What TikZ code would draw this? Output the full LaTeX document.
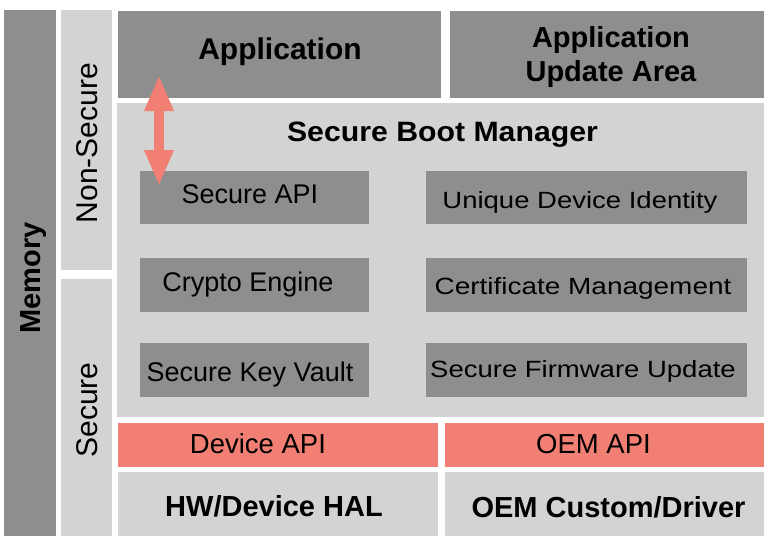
\documentclass[tikz,border=0pt]{standalone}
\usepackage{fontspec}
\setmainfont{Liberation Sans}
\usetikzlibrary{arrows.meta}
\definecolor{dgray}{HTML}{8E8E8E}
\definecolor{lgray}{HTML}{D3D3D3}
\definecolor{salmon}{HTML}{F17F73}
\newcommand\fs[1]{\fontsize{#1}{#1}\selectfont}
\tikzset{
  blk/.style={rectangle, inner sep=0pt, outer sep=0pt, draw=none},
  darkblk/.style={blk, fill=dgray},
  lightblk/.style={blk, fill=lgray},
  redblk/.style={blk, fill=salmon},
  txt/.style={inner sep=0pt, outer sep=0pt, text=black},
  bigarrow/.style={draw=salmon, line width=10pt,
    {Triangle[width=27pt,length=36pt]}-{Triangle[width=27pt,length=36pt]}}
}
\begin{document}
\begin{tikzpicture}[x=1pt,y=-1pt]
\useasboundingbox[fill=white] (0,0) rectangle (764,536);
% columns
\node[darkblk, minimum width=52pt, minimum height=526pt] (mem) at (30,273) {};
\node[lightblk, minimum width=51pt, minimum height=260pt] (ns) at (86.5,140) {};
\node[lightblk, minimum width=51pt, minimum height=257pt] (sec) at (86.5,407.5) {};
% top
\node[darkblk, minimum width=323pt, minimum height=87pt] (app) at (279.5,54.5) {};
\node[darkblk, minimum width=314pt, minimum height=87pt] (upd) at (607,54.5) {};
% secure boot manager
\node[lightblk, minimum width=647pt, minimum height=314pt] (sbm) at (440.5,260) {};
\node[darkblk, minimum width=229pt, minimum height=53pt] (sapi) at (254.5,197.5) {};
\node[darkblk, minimum width=229pt, minimum height=54pt] (crypto) at (254.5,285) {};
\node[darkblk, minimum width=229pt, minimum height=54pt] (skv) at (254.5,370) {};
\node[darkblk, minimum width=321pt, minimum height=53pt] (udi) at (586.5,197.5) {};
\node[darkblk, minimum width=321pt, minimum height=54pt] (cert) at (586.5,285) {};
\node[darkblk, minimum width=321pt, minimum height=54pt] (sfu) at (586.5,370) {};
% api row
\node[redblk, minimum width=320pt, minimum height=44pt] (dapi) at (278,445) {};
\node[redblk, minimum width=319pt, minimum height=44pt] (oapi) at (604.5,445) {};
% bottom row
\node[lightblk, minimum width=320pt, minimum height=64pt] (hal) at (278,504) {};
\node[lightblk, minimum width=319pt, minimum height=64pt] (oem) at (604.5,504) {};
% texts
\node[txt, anchor=base, rotate=90, font=\fs{29}\bfseries] (tmem) at (40,278) {Memory};
\node[txt, anchor=base, rotate=90, font=\fs{30}] (tns) at (97,143) {Non-Secure};
\node[txt, anchor=base, rotate=90, font=\fs{30}] (tsec) at (97,410) {Secure};
\node[txt, anchor=base, font=\fs{30}\bfseries] (tapp) at (280,59) {Application};
\node[txt, align=center, font=\fontsize{29}{34}\selectfont\bfseries] (tupd) at (611,56.5) {Application\\Update Area};
\node[txt, anchor=base, font=\fs{28}\bfseries] (tsbm) at (442.5,141) {\scalebox{1.08}[1]{Secure Boot Manager}};
\node[txt, anchor=base, font=\fs{27}] (tsapi) at (250,203) {Secure API};
\node[txt, anchor=base, font=\fs{27}] (tcrypto) at (248,291) {Crypto Engine};
\node[txt, anchor=base, font=\fs{27}] (tskv) at (250,381) {Secure Key Vault};
\node[txt, anchor=base, font=\fs{23.5}] (tudi) at (580,208) {\scalebox{1.17}[1]{Unique Device Identity}};
\node[txt, anchor=base, font=\fs{23.5}] (tcert) at (583,294) {\scalebox{1.19}[1]{Certificate Management}};
\node[txt, anchor=base, font=\fs{23.5}] (tsfu) at (583,377) {\scalebox{1.17}[1]{Secure Firmware Update}};
\node[txt, anchor=base, font=\fs{27.5}] (tdapi) at (258,453) {Device API};
\node[txt, anchor=base, font=\fs{27.5}] (toapi) at (593.5,453) {OEM API};
\node[txt, anchor=base, font=\fs{29}\bfseries] (thal) at (274,516) {HW/Device HAL};
\node[txt, anchor=base, font=\fs{29}\bfseries] (toem) at (608.5,517) {OEM Custom/Driver};
% arrow
\coordinate (atop) at (159,75);
\coordinate (abot) at (159,186);
\draw[bigarrow] (atop) -- (abot);
\end{tikzpicture}
\end{document}
